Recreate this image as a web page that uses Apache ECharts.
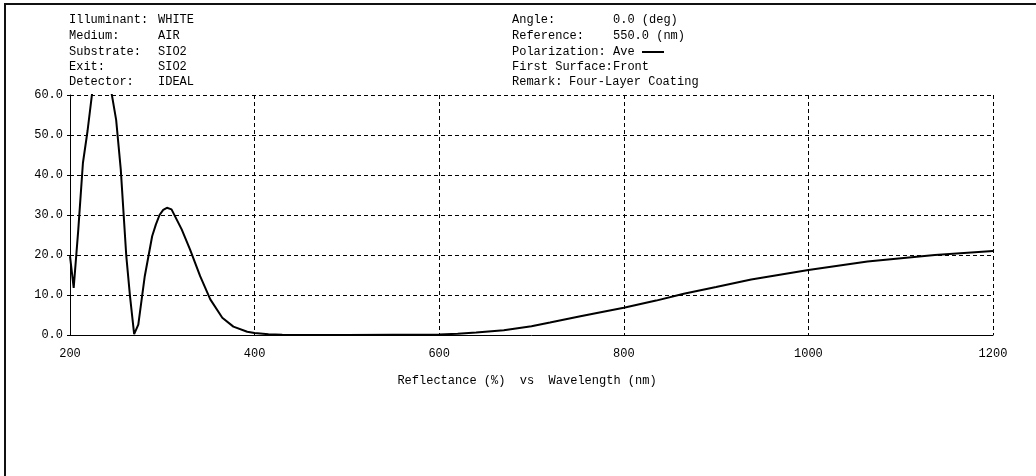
<!DOCTYPE html>
<html>
<head>
<meta charset="utf-8">
<script src="https://cdn.jsdelivr.net/npm/echarts@6/dist/echarts.min.js"></script>
<style>
html,body{margin:0;padding:0;background:#fff;}
#c{width:1036px;height:476px;}
</style>
</head>
<body>
<div id="c"></div>
<script>
// Data (Reflectance % vs Wavelength nm)
const wavelengths = [200, 204, 209, 214, 219, 224, 229, 234, 240, 245, 250, 255, 261, 265, 269.5, 274, 281, 289, 293, 297, 301, 305, 310, 321, 330, 341, 352, 365, 377, 392, 400, 415, 430, 500, 600, 620, 640, 670, 700, 720, 753, 775, 800, 835, 865, 900, 938, 1000, 1064, 1137, 1200];
const reflectance = [19.7, 11.8, 26.4, 43, 51, 60.5, 66, 68, 66, 60.5, 53.8, 41.4, 19.7, 9.7, 0.2, 2.6, 14.7, 24.7, 27.6, 30, 31.3, 31.8, 31.4, 26.4, 21.4, 14.7, 8.9, 4.3, 2.1, 0.8, 0.5, 0.2, 0.05, 0, 0.1, 0.3, 0.6, 1.2, 2.2, 3.1, 4.7, 5.7, 6.8, 8.6, 10.3, 12, 13.9, 16.25, 18.4, 20, 21];
const xTicks = [200, 400, 600, 800, 1000, 1200];
const yTicks = [0, 10, 20, 30, 40, 50, 60];
const headerLeftLabels = ["Illuminant:", "Medium:", "Substrate:", "Exit:", "Detector:"];
const headerLeftValues = ["WHITE", "AIR", "SIO2", "SIO2", "IDEAL"];
const headerRightLabels = ["Angle:", "Reference:", "Polarization:", "First Surface:", "Remark:"];
const headerRightValues = ["0.0 (deg)", "550.0 (nm)", "Ave", "Front", "Four-Layer Coating"];
const axisTitle = "Reflectance (%)  vs  Wavelength (nm)";

const FONT = '"Liberation Mono", "DejaVu Sans Mono", monospace';
const lineY = [20, 36, 52, 67, 82];

const graphics = [];
// frame lines (left and top)
graphics.push({type:'rect', shape:{x:4, y:3, width:2, height:473}, style:{fill:'#111'}});
graphics.push({type:'rect', shape:{x:4, y:3, width:1032, height:2}, style:{fill:'#111'}});
headerLeftLabels.forEach((t,i)=>{
  graphics.push({type:'text', x:69, y:lineY[i], style:{text:t, font:'12px '+FONT, fill:'#000', textVerticalAlign:'middle'}});
  graphics.push({type:'text', x:158, y:lineY[i], style:{text:headerLeftValues[i], font:'12px '+FONT, fill:'#000', textVerticalAlign:'middle'}});
});
headerRightLabels.forEach((t,i)=>{
  const vx = (t === "Remark:") ? 569 : 613;
  graphics.push({type:'text', x:512, y:lineY[i], style:{text:t, font:'12px '+FONT, fill:'#000', textVerticalAlign:'middle'}});
  graphics.push({type:'text', x:vx, y:lineY[i], style:{text:headerRightValues[i], font:'12px '+FONT, fill:'#000', textVerticalAlign:'middle'}});
});
// legend line sample after "Ave"
graphics.push({type:'line', shape:{x1:642, y1:lineY[2], x2:664, y2:lineY[2]}, style:{stroke:'#000', lineWidth:2}});
graphics.push({type:'text', x:527, y:381, style:{text:axisTitle, font:'12px '+FONT, fill:'#000', textAlign:'center', textVerticalAlign:'middle'}});

const chart = echarts.init(document.getElementById('c'), null, {renderer:'canvas'});
chart.setOption({
  animation:false,
  backgroundColor:'#fff',
  grid:{left:70, right:43, top:95, bottom:141, containLabel:false},
  xAxis:{
    type:'value', min:xTicks[0], max:xTicks[xTicks.length-1], interval:200,
    axisLine:{show:true, onZero:false, lineStyle:{color:'#000', width:1}},
    axisTick:{show:false},
    axisLabel:{color:'#000', fontFamily:FONT, fontSize:12, margin:13, formatter:v=>String(v)},
    splitLine:{show:true, lineStyle:{color:'#000', type:[4,3], width:1}}
  },
  yAxis:{
    type:'value', min:yTicks[0], max:yTicks[yTicks.length-1], interval:10,
    axisLine:{show:true, lineStyle:{color:'#000', width:1}},
    axisTick:{show:true, length:3, lineStyle:{color:'#000'}},
    axisLabel:{color:'#000', fontFamily:FONT, fontSize:12, margin:7, formatter:v=>v.toFixed(1)},
    splitLine:{show:true, lineStyle:{color:'#000', type:[4,3], width:1}}
  },
  series:[{
    type:'line',
    data: wavelengths.map((w,i)=>[w, reflectance[i]]),
    showSymbol:false,
    clip:true,
    smooth:false,
    lineStyle:{color:'#000', width:2},
    z:5
  }],
  graphic: graphics
});
</script>
</body>
</html>
